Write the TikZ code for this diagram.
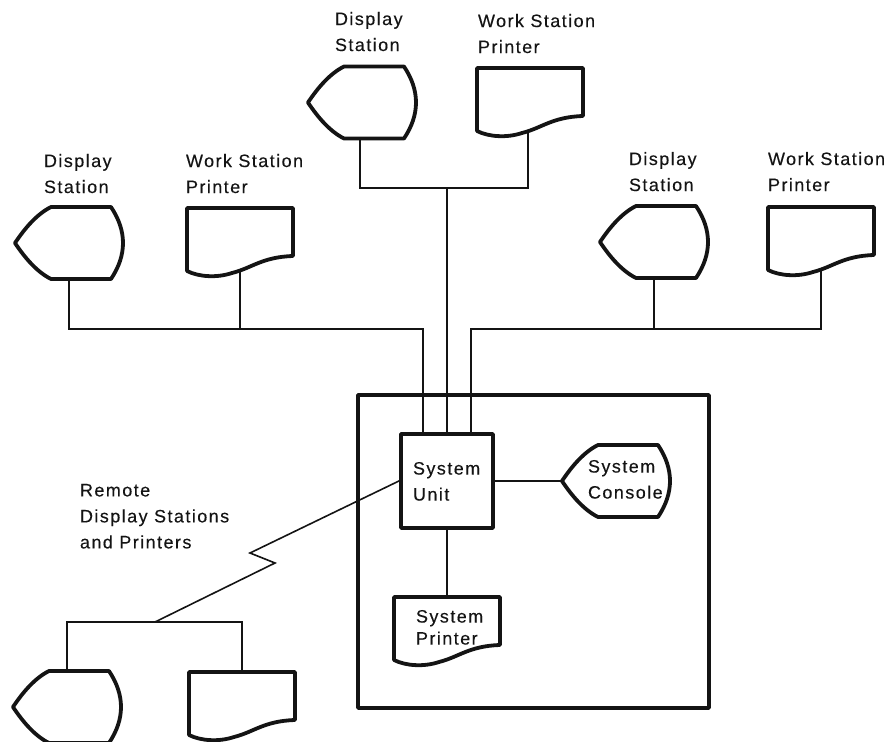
\documentclass[tikz,border=0pt]{standalone}
\usepackage{fontspec}
\setmainfont[LetterSpace=8,FakeBold=0.25]{Liberation Sans}
\definecolor{ink}{HTML}{141414}
\tikzset{
  thinline/.style={draw=ink,line width=1.6pt},
  thickline/.style={draw=ink,line width=3.8pt,line join=round},
  lbl/.style={anchor=north west,inner sep=0pt,outer sep=0pt,align=left,text=ink,font=\fontsize{18}{26}\selectfont},
  lbltight/.style={lbl,font=\fontsize{18}{22}\selectfont},
  boxnode/.style={thickline,rectangle,inner sep=0pt,outer sep=0pt,anchor=north west},
  pics/disp/.style={code={
    \draw[thickline] (0,0) .. controls (10,-15) and (22,-29) .. (36,-36) -- (96,-36)
      .. controls (104,-24) and (108,-12) .. (108,0)
      .. controls (108,12) and (104,24) .. (96,36) -- (36,36)
      .. controls (22,29) and (10,15) .. (0,0) -- cycle;
    \coordinate (-top) at (54,-36);
    \coordinate (-bot) at (54,36);
    \coordinate (-tip) at (0,0);
  }},
  pics/prnt/.style={code={
    \draw[thickline] (0,0) -- (106,0) -- (106,48)
      .. controls (75,49) and (65,60) .. (45,65)
      .. controls (30,70) and (12,69) .. (0,63) -- cycle;
    \coordinate (-top) at (53,0);
    \coordinate (-bot) at (53,63);
  }},
}
\begin{document}
\begin{tikzpicture}[x=1pt,y=-1pt]
\useasboundingbox (0,0) rectangle (895,742);
% shapes
\pic (dl) at (15,243) {disp};
\pic (pl) at (187,208) {prnt};
\pic (dt) at (308,102.5) {disp};
\pic (pt) at (477,68) {prnt};
\pic (dr) at (600,242) {disp};
\pic (pr) at (768,207) {prnt};
\pic (dc) at (562,481) {disp};
\pic (ps) at (394,597) {prnt};
\pic (db) at (13,707) {disp};
\pic (pb) at (189,672) {prnt};
\node[boxnode,minimum width=351pt,minimum height=313pt] (sys) at (358,395) {};
\node[boxnode,minimum width=92pt,minimum height=94pt] (unit) at (401,434) {};
% bus coordinates
\coordinate (busl) at (423,329);
\coordinate (busm) at (447,188);
\coordinate (busr) at (471,329);
\coordinate (busb) at (67,622);
\coordinate (ztop) at (250,553);
\coordinate (zbot) at (275,563);
\coordinate (zend) at (155,622);
\coordinate (uleft) at (401,480);
\coordinate (dtstem) at (360,138);
\coordinate (ptstem) at (528,131);
% connectors
\draw[thinline] (dl-bot) |- (busl) -- (busl |- unit.north);
\draw[thinline] (pl-bot) -- (pl-bot |- busl);
\draw[thinline] (dtstem) -- (dtstem |- busm) -- (ptstem |- busm) -- (ptstem);
\draw[thinline] (busm) -- (busm |- unit.north);
\draw[thinline] (pr-bot) |- (busr) -- (busr |- unit.north);
\draw[thinline] (dr-bot) -- (dr-bot |- busr);
\draw[thinline] (busm |- unit.south) -- (busm |- ps-top);
\draw[thinline] (unit.east |- dc-tip) -- (dc-tip);
\draw[thinline] (uleft) -- (ztop) -- (zbot) -- (zend);
\draw[thinline] (db-top) -- (db-top |- busb) -- (pb-top |- busb) -- (pb-top);
% labels
\node[lbl] (tdl) at (44,154) {Display\\Station};
\node[lbl] (tpl) at (186,154) {Work Station\\Printer};
\node[lbl] (tdt) at (335,12) {Display\\Station};
\node[lbl] (tpt) at (478,14) {Work Station\\Printer};
\node[lbl] (tdr) at (629,152) {Display\\Station};
\node[lbl] (tpr) at (768,152) {Work Station\\Printer};
\node[lbl] (trm) at (80,484) {Remote\\Display Stations\\and Printers};
\node[lbl] (tun) at (413,462) {System\\Unit};
\node[lbl] (tco) at (588,460) {System\\Console};
\node[lbltight] (tps) at (416,610) {System\\Printer};
\end{tikzpicture}
\end{document}
